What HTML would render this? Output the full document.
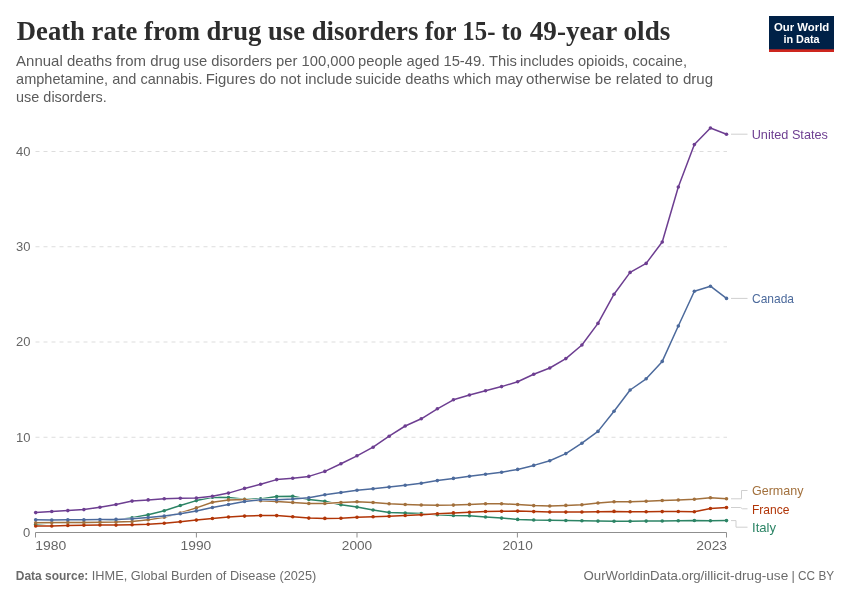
<!DOCTYPE html>
<html><head><meta charset="utf-8"><title>Death rate from drug use disorders</title>
<style>
html,body{margin:0;padding:0;background:#fff;}
body{width:850px;height:600px;overflow:hidden;font-family:"Liberation Sans",sans-serif;}
svg{will-change:transform;display:block;font-family:"Liberation Sans",sans-serif;}
.title{font-family:"Liberation Serif",serif;font-weight:bold;font-size:27px;fill:#2d2d2d;}
.sub{font-size:14.3px;fill:#5b5b5b;}
.ax{font-size:13px;fill:#666666;}
.lab{font-size:12.6px;}
.ft{font-size:12.8px;fill:#6b6b6b;}
.logo{font-weight:bold;font-size:11.6px;fill:#ffffff;}
</style></head><body>
<svg width="850" height="600" viewBox="0 0 850 600">
<rect width="850" height="600" fill="#ffffff"/>
<text x="16.80" y="40.3" class="title"  textLength="401.50" lengthAdjust="spacingAndGlyphs">Death rate from drug use disorders</text>
<text x="424.90" y="40.3" class="title"  textLength="97.40" lengthAdjust="spacingAndGlyphs">for 15- to</text>
<text x="529.80" y="40.3" class="title"  textLength="140.50" lengthAdjust="spacingAndGlyphs">49-year olds</text>
<text x="16.10" y="66" class="sub"  textLength="164.10" lengthAdjust="spacingAndGlyphs">Annual deaths from drug</text>
<text x="183.30" y="66" class="sub"  textLength="171.70" lengthAdjust="spacingAndGlyphs">use disorders per 100,000</text>
<text x="358.10" y="66" class="sub"  textLength="158.90" lengthAdjust="spacingAndGlyphs">people aged 15-49. This</text>
<text x="520.10" y="66" class="sub"  textLength="167.00" lengthAdjust="spacingAndGlyphs">includes opioids, cocaine,</text>
<text x="16.10" y="84" class="sub"  textLength="186.50" lengthAdjust="spacingAndGlyphs">amphetamine, and cannabis.</text>
<text x="205.70" y="84" class="sub"  textLength="146.50" lengthAdjust="spacingAndGlyphs">Figures do not include</text>
<text x="355.30" y="84" class="sub"  textLength="167.70" lengthAdjust="spacingAndGlyphs">suicide deaths which may</text>
<text x="526.10" y="84" class="sub"  textLength="187.00" lengthAdjust="spacingAndGlyphs">otherwise be related to drug</text>
<text x="16.10" y="102" class="sub"  textLength="90.60" lengthAdjust="spacingAndGlyphs">use disorders.</text>
<g id="logo">
<rect x="769" y="16" width="65" height="36" fill="#002147"/>
<rect x="769" y="49.3" width="65" height="2.7" fill="#ce261e"/>
<text x="801.6" y="30.7" text-anchor="middle" class="logo" textLength="55.3" lengthAdjust="spacingAndGlyphs">Our World</text>
<text x="801.5" y="42.7" text-anchor="middle" class="logo" textLength="36.2" lengthAdjust="spacingAndGlyphs">in Data</text>
</g>
<g id="grid">
<line x1="35.5" x2="727" y1="437.25" y2="437.25" stroke="#dddddd" stroke-width="1" stroke-dasharray="4,4"/>
<text x="16" y="441.55" class="ax">10</text>
<line x1="35.5" x2="727" y1="342.0" y2="342.0" stroke="#dddddd" stroke-width="1" stroke-dasharray="4,4"/>
<text x="16" y="346.3" class="ax">20</text>
<line x1="35.5" x2="727" y1="246.75" y2="246.75" stroke="#dddddd" stroke-width="1" stroke-dasharray="4,4"/>
<text x="16" y="251.05" class="ax">30</text>
<line x1="35.5" x2="727" y1="151.5" y2="151.5" stroke="#dddddd" stroke-width="1" stroke-dasharray="4,4"/>
<text x="16" y="155.8" class="ax">40</text>
<text x="22.9" y="536.8" class="ax">0</text>
</g>
<g id="xaxis" stroke="#8f8f8f" stroke-width="1" fill="none">
<path d="M35.5,537.5 V532.5 H726.5 V537.5"/>
<line x1="196.4" x2="196.4" y1="532.5" y2="537.5"/>
<line x1="357" x2="357" y1="532.5" y2="537.5"/>
<line x1="517.4" x2="517.4" y1="532.5" y2="537.5"/>
</g>
<text x="35.30" y="550.3" class="ax"  textLength="31.00" lengthAdjust="spacingAndGlyphs">1980</text>
<text x="180.60" y="550.3" class="ax"  textLength="30.70" lengthAdjust="spacingAndGlyphs">1990</text>
<text x="341.80" y="550.3" class="ax"  textLength="30.40" lengthAdjust="spacingAndGlyphs">2000</text>
<text x="502.40" y="550.3" class="ax"  textLength="30.40" lengthAdjust="spacingAndGlyphs">2010</text>
<text x="696.30" y="550.3" class="ax"  textLength="30.70" lengthAdjust="spacingAndGlyphs">2023</text>
<g id="lines">
<g fill="#ffffff"><path d="M35.70,524.30 L51.77,522.80 L67.83,522.50 L83.90,522.50 L99.96,522.30 L116.03,519.90 L132.09,517.80 L148.16,514.70 L164.22,510.70 L180.29,505.50 L196.35,500.60 L212.42,497.20 L228.48,497.50 L244.55,499.20 L260.61,498.90 L276.68,496.60 L292.74,496.20 L308.81,499.50 L324.87,501.20 L340.94,504.80 L357.00,507.10 L373.07,510.00 L389.13,512.40 L405.20,513.10 L421.26,513.60 L437.33,514.70 L453.39,515.50 L469.46,515.80 L485.52,517.00 L501.59,518.10 L517.65,519.40 L533.72,520.00 L549.78,520.20 L565.85,520.50 L581.91,520.80 L597.98,521.10 L614.04,521.30 L630.11,521.20 L646.17,521.10 L662.24,521.00 L678.30,520.80 L694.37,520.50 L710.43,520.80 L726.50,520.60" fill="none" stroke="#ffffff" stroke-width="2.5" stroke-linejoin="round"/></g><g fill="#2C8465"><path d="M35.70,524.30 L51.77,522.80 L67.83,522.50 L83.90,522.50 L99.96,522.30 L116.03,519.90 L132.09,517.80 L148.16,514.70 L164.22,510.70 L180.29,505.50 L196.35,500.60 L212.42,497.20 L228.48,497.50 L244.55,499.20 L260.61,498.90 L276.68,496.60 L292.74,496.20 L308.81,499.50 L324.87,501.20 L340.94,504.80 L357.00,507.10 L373.07,510.00 L389.13,512.40 L405.20,513.10 L421.26,513.60 L437.33,514.70 L453.39,515.50 L469.46,515.80 L485.52,517.00 L501.59,518.10 L517.65,519.40 L533.72,520.00 L549.78,520.20 L565.85,520.50 L581.91,520.80 L597.98,521.10 L614.04,521.30 L630.11,521.20 L646.17,521.10 L662.24,521.00 L678.30,520.80 L694.37,520.50 L710.43,520.80 L726.50,520.60" fill="none" stroke="#2C8465" stroke-width="1.5" stroke-linejoin="round"/><circle cx="35.70" cy="524.30" r="1.8"/><circle cx="51.77" cy="522.80" r="1.8"/><circle cx="67.83" cy="522.50" r="1.8"/><circle cx="83.90" cy="522.50" r="1.8"/><circle cx="99.96" cy="522.30" r="1.8"/><circle cx="116.03" cy="519.90" r="1.8"/><circle cx="132.09" cy="517.80" r="1.8"/><circle cx="148.16" cy="514.70" r="1.8"/><circle cx="164.22" cy="510.70" r="1.8"/><circle cx="180.29" cy="505.50" r="1.8"/><circle cx="196.35" cy="500.60" r="1.8"/><circle cx="212.42" cy="497.20" r="1.8"/><circle cx="228.48" cy="497.50" r="1.8"/><circle cx="244.55" cy="499.20" r="1.8"/><circle cx="260.61" cy="498.90" r="1.8"/><circle cx="276.68" cy="496.60" r="1.8"/><circle cx="292.74" cy="496.20" r="1.8"/><circle cx="308.81" cy="499.50" r="1.8"/><circle cx="324.87" cy="501.20" r="1.8"/><circle cx="340.94" cy="504.80" r="1.8"/><circle cx="357.00" cy="507.10" r="1.8"/><circle cx="373.07" cy="510.00" r="1.8"/><circle cx="389.13" cy="512.40" r="1.8"/><circle cx="405.20" cy="513.10" r="1.8"/><circle cx="421.26" cy="513.60" r="1.8"/><circle cx="437.33" cy="514.70" r="1.8"/><circle cx="453.39" cy="515.50" r="1.8"/><circle cx="469.46" cy="515.80" r="1.8"/><circle cx="485.52" cy="517.00" r="1.8"/><circle cx="501.59" cy="518.10" r="1.8"/><circle cx="517.65" cy="519.40" r="1.8"/><circle cx="533.72" cy="520.00" r="1.8"/><circle cx="549.78" cy="520.20" r="1.8"/><circle cx="565.85" cy="520.50" r="1.8"/><circle cx="581.91" cy="520.80" r="1.8"/><circle cx="597.98" cy="521.10" r="1.8"/><circle cx="614.04" cy="521.30" r="1.8"/><circle cx="630.11" cy="521.20" r="1.8"/><circle cx="646.17" cy="521.10" r="1.8"/><circle cx="662.24" cy="521.00" r="1.8"/><circle cx="678.30" cy="520.80" r="1.8"/><circle cx="694.37" cy="520.50" r="1.8"/><circle cx="710.43" cy="520.80" r="1.8"/><circle cx="726.50" cy="520.60" r="1.8"/></g>
<g fill="#ffffff"><path d="M35.70,526.00 L51.77,526.00 L67.83,525.50 L83.90,525.30 L99.96,525.00 L116.03,525.10 L132.09,524.80 L148.16,524.20 L164.22,523.20 L180.29,521.80 L196.35,520.10 L212.42,518.50 L228.48,517.00 L244.55,516.10 L260.61,515.60 L276.68,515.60 L292.74,516.70 L308.81,518.10 L324.87,518.40 L340.94,518.20 L357.00,517.30 L373.07,516.80 L389.13,516.30 L405.20,515.50 L421.26,514.80 L437.33,513.80 L453.39,512.90 L469.46,512.20 L485.52,511.50 L501.59,511.20 L517.65,511.10 L533.72,511.60 L549.78,512.00 L565.85,512.10 L581.91,512.00 L597.98,511.70 L614.04,511.40 L630.11,511.70 L646.17,511.80 L662.24,511.60 L678.30,511.50 L694.37,511.80 L710.43,508.50 L726.50,507.50" fill="none" stroke="#ffffff" stroke-width="2.5" stroke-linejoin="round"/></g><g fill="#B13507"><path d="M35.70,526.00 L51.77,526.00 L67.83,525.50 L83.90,525.30 L99.96,525.00 L116.03,525.10 L132.09,524.80 L148.16,524.20 L164.22,523.20 L180.29,521.80 L196.35,520.10 L212.42,518.50 L228.48,517.00 L244.55,516.10 L260.61,515.60 L276.68,515.60 L292.74,516.70 L308.81,518.10 L324.87,518.40 L340.94,518.20 L357.00,517.30 L373.07,516.80 L389.13,516.30 L405.20,515.50 L421.26,514.80 L437.33,513.80 L453.39,512.90 L469.46,512.20 L485.52,511.50 L501.59,511.20 L517.65,511.10 L533.72,511.60 L549.78,512.00 L565.85,512.10 L581.91,512.00 L597.98,511.70 L614.04,511.40 L630.11,511.70 L646.17,511.80 L662.24,511.60 L678.30,511.50 L694.37,511.80 L710.43,508.50 L726.50,507.50" fill="none" stroke="#B13507" stroke-width="1.5" stroke-linejoin="round"/><circle cx="35.70" cy="526.00" r="1.8"/><circle cx="51.77" cy="526.00" r="1.8"/><circle cx="67.83" cy="525.50" r="1.8"/><circle cx="83.90" cy="525.30" r="1.8"/><circle cx="99.96" cy="525.00" r="1.8"/><circle cx="116.03" cy="525.10" r="1.8"/><circle cx="132.09" cy="524.80" r="1.8"/><circle cx="148.16" cy="524.20" r="1.8"/><circle cx="164.22" cy="523.20" r="1.8"/><circle cx="180.29" cy="521.80" r="1.8"/><circle cx="196.35" cy="520.10" r="1.8"/><circle cx="212.42" cy="518.50" r="1.8"/><circle cx="228.48" cy="517.00" r="1.8"/><circle cx="244.55" cy="516.10" r="1.8"/><circle cx="260.61" cy="515.60" r="1.8"/><circle cx="276.68" cy="515.60" r="1.8"/><circle cx="292.74" cy="516.70" r="1.8"/><circle cx="308.81" cy="518.10" r="1.8"/><circle cx="324.87" cy="518.40" r="1.8"/><circle cx="340.94" cy="518.20" r="1.8"/><circle cx="357.00" cy="517.30" r="1.8"/><circle cx="373.07" cy="516.80" r="1.8"/><circle cx="389.13" cy="516.30" r="1.8"/><circle cx="405.20" cy="515.50" r="1.8"/><circle cx="421.26" cy="514.80" r="1.8"/><circle cx="437.33" cy="513.80" r="1.8"/><circle cx="453.39" cy="512.90" r="1.8"/><circle cx="469.46" cy="512.20" r="1.8"/><circle cx="485.52" cy="511.50" r="1.8"/><circle cx="501.59" cy="511.20" r="1.8"/><circle cx="517.65" cy="511.10" r="1.8"/><circle cx="533.72" cy="511.60" r="1.8"/><circle cx="549.78" cy="512.00" r="1.8"/><circle cx="565.85" cy="512.10" r="1.8"/><circle cx="581.91" cy="512.00" r="1.8"/><circle cx="597.98" cy="511.70" r="1.8"/><circle cx="614.04" cy="511.40" r="1.8"/><circle cx="630.11" cy="511.70" r="1.8"/><circle cx="646.17" cy="511.80" r="1.8"/><circle cx="662.24" cy="511.60" r="1.8"/><circle cx="678.30" cy="511.50" r="1.8"/><circle cx="694.37" cy="511.80" r="1.8"/><circle cx="710.43" cy="508.50" r="1.8"/><circle cx="726.50" cy="507.50" r="1.8"/></g>
<g fill="#ffffff"><path d="M35.70,522.80 L51.77,522.60 L67.83,522.50 L83.90,522.50 L99.96,522.30 L116.03,522.10 L132.09,521.50 L148.16,519.70 L164.22,517.20 L180.29,513.00 L196.35,507.90 L212.42,502.20 L228.48,499.90 L244.55,499.60 L260.61,500.80 L276.68,501.60 L292.74,502.50 L308.81,503.50 L324.87,503.50 L340.94,502.50 L357.00,501.70 L373.07,502.50 L389.13,503.80 L405.20,504.50 L421.26,505.00 L437.33,505.30 L453.39,505.10 L469.46,504.40 L485.52,503.70 L501.59,503.80 L517.65,504.50 L533.72,505.60 L549.78,506.00 L565.85,505.40 L581.91,504.70 L597.98,503.00 L614.04,501.80 L630.11,501.80 L646.17,501.20 L662.24,500.50 L678.30,500.00 L694.37,499.30 L710.43,497.70 L726.50,498.80" fill="none" stroke="#ffffff" stroke-width="2.5" stroke-linejoin="round"/></g><g fill="#A2703C"><path d="M35.70,522.80 L51.77,522.60 L67.83,522.50 L83.90,522.50 L99.96,522.30 L116.03,522.10 L132.09,521.50 L148.16,519.70 L164.22,517.20 L180.29,513.00 L196.35,507.90 L212.42,502.20 L228.48,499.90 L244.55,499.60 L260.61,500.80 L276.68,501.60 L292.74,502.50 L308.81,503.50 L324.87,503.50 L340.94,502.50 L357.00,501.70 L373.07,502.50 L389.13,503.80 L405.20,504.50 L421.26,505.00 L437.33,505.30 L453.39,505.10 L469.46,504.40 L485.52,503.70 L501.59,503.80 L517.65,504.50 L533.72,505.60 L549.78,506.00 L565.85,505.40 L581.91,504.70 L597.98,503.00 L614.04,501.80 L630.11,501.80 L646.17,501.20 L662.24,500.50 L678.30,500.00 L694.37,499.30 L710.43,497.70 L726.50,498.80" fill="none" stroke="#A2703C" stroke-width="1.5" stroke-linejoin="round"/><circle cx="35.70" cy="522.80" r="1.8"/><circle cx="51.77" cy="522.60" r="1.8"/><circle cx="67.83" cy="522.50" r="1.8"/><circle cx="83.90" cy="522.50" r="1.8"/><circle cx="99.96" cy="522.30" r="1.8"/><circle cx="116.03" cy="522.10" r="1.8"/><circle cx="132.09" cy="521.50" r="1.8"/><circle cx="148.16" cy="519.70" r="1.8"/><circle cx="164.22" cy="517.20" r="1.8"/><circle cx="180.29" cy="513.00" r="1.8"/><circle cx="196.35" cy="507.90" r="1.8"/><circle cx="212.42" cy="502.20" r="1.8"/><circle cx="228.48" cy="499.90" r="1.8"/><circle cx="244.55" cy="499.60" r="1.8"/><circle cx="260.61" cy="500.80" r="1.8"/><circle cx="276.68" cy="501.60" r="1.8"/><circle cx="292.74" cy="502.50" r="1.8"/><circle cx="308.81" cy="503.50" r="1.8"/><circle cx="324.87" cy="503.50" r="1.8"/><circle cx="340.94" cy="502.50" r="1.8"/><circle cx="357.00" cy="501.70" r="1.8"/><circle cx="373.07" cy="502.50" r="1.8"/><circle cx="389.13" cy="503.80" r="1.8"/><circle cx="405.20" cy="504.50" r="1.8"/><circle cx="421.26" cy="505.00" r="1.8"/><circle cx="437.33" cy="505.30" r="1.8"/><circle cx="453.39" cy="505.10" r="1.8"/><circle cx="469.46" cy="504.40" r="1.8"/><circle cx="485.52" cy="503.70" r="1.8"/><circle cx="501.59" cy="503.80" r="1.8"/><circle cx="517.65" cy="504.50" r="1.8"/><circle cx="533.72" cy="505.60" r="1.8"/><circle cx="549.78" cy="506.00" r="1.8"/><circle cx="565.85" cy="505.40" r="1.8"/><circle cx="581.91" cy="504.70" r="1.8"/><circle cx="597.98" cy="503.00" r="1.8"/><circle cx="614.04" cy="501.80" r="1.8"/><circle cx="630.11" cy="501.80" r="1.8"/><circle cx="646.17" cy="501.20" r="1.8"/><circle cx="662.24" cy="500.50" r="1.8"/><circle cx="678.30" cy="500.00" r="1.8"/><circle cx="694.37" cy="499.30" r="1.8"/><circle cx="710.43" cy="497.70" r="1.8"/><circle cx="726.50" cy="498.80" r="1.8"/></g>
<g fill="#ffffff"><path d="M35.70,519.80 L51.77,520.00 L67.83,519.80 L83.90,519.70 L99.96,519.50 L116.03,519.40 L132.09,518.70 L148.16,517.50 L164.22,516.00 L180.29,513.70 L196.35,510.90 L212.42,507.50 L228.48,504.50 L244.55,501.50 L260.61,499.80 L276.68,499.70 L292.74,499.00 L308.81,497.80 L324.87,494.80 L340.94,492.50 L357.00,490.20 L373.07,488.70 L389.13,487.10 L405.20,485.30 L421.26,483.30 L437.33,480.60 L453.39,478.40 L469.46,476.20 L485.52,474.20 L501.59,472.20 L517.65,469.40 L533.72,465.40 L549.78,460.80 L565.85,453.60 L581.91,443.20 L597.98,431.40 L614.04,411.20 L630.11,390.00 L646.17,378.80 L662.24,361.40 L678.30,326.00 L694.37,291.20 L710.43,286.20 L726.50,298.40" fill="none" stroke="#ffffff" stroke-width="2.5" stroke-linejoin="round"/></g><g fill="#4C6A9C"><path d="M35.70,519.80 L51.77,520.00 L67.83,519.80 L83.90,519.70 L99.96,519.50 L116.03,519.40 L132.09,518.70 L148.16,517.50 L164.22,516.00 L180.29,513.70 L196.35,510.90 L212.42,507.50 L228.48,504.50 L244.55,501.50 L260.61,499.80 L276.68,499.70 L292.74,499.00 L308.81,497.80 L324.87,494.80 L340.94,492.50 L357.00,490.20 L373.07,488.70 L389.13,487.10 L405.20,485.30 L421.26,483.30 L437.33,480.60 L453.39,478.40 L469.46,476.20 L485.52,474.20 L501.59,472.20 L517.65,469.40 L533.72,465.40 L549.78,460.80 L565.85,453.60 L581.91,443.20 L597.98,431.40 L614.04,411.20 L630.11,390.00 L646.17,378.80 L662.24,361.40 L678.30,326.00 L694.37,291.20 L710.43,286.20 L726.50,298.40" fill="none" stroke="#4C6A9C" stroke-width="1.5" stroke-linejoin="round"/><circle cx="35.70" cy="519.80" r="1.8"/><circle cx="51.77" cy="520.00" r="1.8"/><circle cx="67.83" cy="519.80" r="1.8"/><circle cx="83.90" cy="519.70" r="1.8"/><circle cx="99.96" cy="519.50" r="1.8"/><circle cx="116.03" cy="519.40" r="1.8"/><circle cx="132.09" cy="518.70" r="1.8"/><circle cx="148.16" cy="517.50" r="1.8"/><circle cx="164.22" cy="516.00" r="1.8"/><circle cx="180.29" cy="513.70" r="1.8"/><circle cx="196.35" cy="510.90" r="1.8"/><circle cx="212.42" cy="507.50" r="1.8"/><circle cx="228.48" cy="504.50" r="1.8"/><circle cx="244.55" cy="501.50" r="1.8"/><circle cx="260.61" cy="499.80" r="1.8"/><circle cx="276.68" cy="499.70" r="1.8"/><circle cx="292.74" cy="499.00" r="1.8"/><circle cx="308.81" cy="497.80" r="1.8"/><circle cx="324.87" cy="494.80" r="1.8"/><circle cx="340.94" cy="492.50" r="1.8"/><circle cx="357.00" cy="490.20" r="1.8"/><circle cx="373.07" cy="488.70" r="1.8"/><circle cx="389.13" cy="487.10" r="1.8"/><circle cx="405.20" cy="485.30" r="1.8"/><circle cx="421.26" cy="483.30" r="1.8"/><circle cx="437.33" cy="480.60" r="1.8"/><circle cx="453.39" cy="478.40" r="1.8"/><circle cx="469.46" cy="476.20" r="1.8"/><circle cx="485.52" cy="474.20" r="1.8"/><circle cx="501.59" cy="472.20" r="1.8"/><circle cx="517.65" cy="469.40" r="1.8"/><circle cx="533.72" cy="465.40" r="1.8"/><circle cx="549.78" cy="460.80" r="1.8"/><circle cx="565.85" cy="453.60" r="1.8"/><circle cx="581.91" cy="443.20" r="1.8"/><circle cx="597.98" cy="431.40" r="1.8"/><circle cx="614.04" cy="411.20" r="1.8"/><circle cx="630.11" cy="390.00" r="1.8"/><circle cx="646.17" cy="378.80" r="1.8"/><circle cx="662.24" cy="361.40" r="1.8"/><circle cx="678.30" cy="326.00" r="1.8"/><circle cx="694.37" cy="291.20" r="1.8"/><circle cx="710.43" cy="286.20" r="1.8"/><circle cx="726.50" cy="298.40" r="1.8"/></g>
<g fill="#ffffff"><path d="M35.70,512.60 L51.77,511.50 L67.83,510.60 L83.90,509.60 L99.96,507.20 L116.03,504.50 L132.09,501.10 L148.16,499.90 L164.22,498.70 L180.29,498.20 L196.35,498.10 L212.42,496.30 L228.48,493.10 L244.55,488.40 L260.61,484.30 L276.68,479.60 L292.74,478.20 L308.81,476.40 L324.87,471.40 L340.94,463.80 L357.00,455.80 L373.07,447.20 L389.13,436.20 L405.20,426.00 L421.26,418.80 L437.33,408.80 L453.39,399.80 L469.46,395.00 L485.52,390.80 L501.59,386.60 L517.65,381.80 L533.72,374.20 L549.78,368.00 L565.85,358.60 L581.91,345.00 L597.98,323.40 L614.04,294.20 L630.11,272.40 L646.17,263.40 L662.24,242.00 L678.30,187.00 L694.37,144.60 L710.43,128.00 L726.50,134.20" fill="none" stroke="#ffffff" stroke-width="2.5" stroke-linejoin="round"/></g><g fill="#6D3E91"><path d="M35.70,512.60 L51.77,511.50 L67.83,510.60 L83.90,509.60 L99.96,507.20 L116.03,504.50 L132.09,501.10 L148.16,499.90 L164.22,498.70 L180.29,498.20 L196.35,498.10 L212.42,496.30 L228.48,493.10 L244.55,488.40 L260.61,484.30 L276.68,479.60 L292.74,478.20 L308.81,476.40 L324.87,471.40 L340.94,463.80 L357.00,455.80 L373.07,447.20 L389.13,436.20 L405.20,426.00 L421.26,418.80 L437.33,408.80 L453.39,399.80 L469.46,395.00 L485.52,390.80 L501.59,386.60 L517.65,381.80 L533.72,374.20 L549.78,368.00 L565.85,358.60 L581.91,345.00 L597.98,323.40 L614.04,294.20 L630.11,272.40 L646.17,263.40 L662.24,242.00 L678.30,187.00 L694.37,144.60 L710.43,128.00 L726.50,134.20" fill="none" stroke="#6D3E91" stroke-width="1.5" stroke-linejoin="round"/><circle cx="35.70" cy="512.60" r="1.8"/><circle cx="51.77" cy="511.50" r="1.8"/><circle cx="67.83" cy="510.60" r="1.8"/><circle cx="83.90" cy="509.60" r="1.8"/><circle cx="99.96" cy="507.20" r="1.8"/><circle cx="116.03" cy="504.50" r="1.8"/><circle cx="132.09" cy="501.10" r="1.8"/><circle cx="148.16" cy="499.90" r="1.8"/><circle cx="164.22" cy="498.70" r="1.8"/><circle cx="180.29" cy="498.20" r="1.8"/><circle cx="196.35" cy="498.10" r="1.8"/><circle cx="212.42" cy="496.30" r="1.8"/><circle cx="228.48" cy="493.10" r="1.8"/><circle cx="244.55" cy="488.40" r="1.8"/><circle cx="260.61" cy="484.30" r="1.8"/><circle cx="276.68" cy="479.60" r="1.8"/><circle cx="292.74" cy="478.20" r="1.8"/><circle cx="308.81" cy="476.40" r="1.8"/><circle cx="324.87" cy="471.40" r="1.8"/><circle cx="340.94" cy="463.80" r="1.8"/><circle cx="357.00" cy="455.80" r="1.8"/><circle cx="373.07" cy="447.20" r="1.8"/><circle cx="389.13" cy="436.20" r="1.8"/><circle cx="405.20" cy="426.00" r="1.8"/><circle cx="421.26" cy="418.80" r="1.8"/><circle cx="437.33" cy="408.80" r="1.8"/><circle cx="453.39" cy="399.80" r="1.8"/><circle cx="469.46" cy="395.00" r="1.8"/><circle cx="485.52" cy="390.80" r="1.8"/><circle cx="501.59" cy="386.60" r="1.8"/><circle cx="517.65" cy="381.80" r="1.8"/><circle cx="533.72" cy="374.20" r="1.8"/><circle cx="549.78" cy="368.00" r="1.8"/><circle cx="565.85" cy="358.60" r="1.8"/><circle cx="581.91" cy="345.00" r="1.8"/><circle cx="597.98" cy="323.40" r="1.8"/><circle cx="614.04" cy="294.20" r="1.8"/><circle cx="630.11" cy="272.40" r="1.8"/><circle cx="646.17" cy="263.40" r="1.8"/><circle cx="662.24" cy="242.00" r="1.8"/><circle cx="678.30" cy="187.00" r="1.8"/><circle cx="694.37" cy="144.60" r="1.8"/><circle cx="710.43" cy="128.00" r="1.8"/><circle cx="726.50" cy="134.20" r="1.8"/></g>
</g>
<g id="connectors" stroke="#cfcfcf" stroke-width="1" fill="none">
<path d="M731,134.2 H747.5"/>
<path d="M731,298.4 H747.5"/>
<path d="M731,498.8 H741.5 V490.5 H747.5"/>
<path d="M731,507.5 H740.5 L742.5,508.8 H747.5"/>
<path d="M731,520.6 H736 V527.2 H747.5"/>
</g>
<g id="labels">
<text x="751.7" y="138.7" class="lab" fill="#6D3E91" textLength="76.2" lengthAdjust="spacingAndGlyphs">United States</text>
<text x="752" y="302.9" class="lab" fill="#4C6A9C" textLength="42" lengthAdjust="spacingAndGlyphs">Canada</text>
<text x="752" y="495.4" class="lab" fill="#A2703C" textLength="51.5" lengthAdjust="spacingAndGlyphs">Germany</text>
<text x="752" y="513.7" class="lab" fill="#B13507" textLength="37.5" lengthAdjust="spacingAndGlyphs">France</text>
<text x="752" y="531.8" class="lab" fill="#2C8465" textLength="24" lengthAdjust="spacingAndGlyphs">Italy</text>
</g>
<g id="footer">
<text x="15.80" y="580.4" class="ft" font-weight="bold" textLength="72.50" lengthAdjust="spacingAndGlyphs">Data source:</text>
<text x="91.80" y="580.4" class="ft"  textLength="224.50" lengthAdjust="spacingAndGlyphs">IHME, Global Burden of Disease (2025)</text>
<text x="583.60" y="580.4" class="ft"  textLength="117.10" lengthAdjust="spacingAndGlyphs">OurWorldinData.org</text>
<text x="700.50" y="580.4" class="ft"  textLength="87.70" lengthAdjust="spacingAndGlyphs">/illicit-drug-use</text>
<text x="793.1" y="580.4" class="ft" text-anchor="middle">|</text>
<text x="798.10" y="580.4" class="ft"  textLength="36.00" lengthAdjust="spacingAndGlyphs">CC BY</text>
</g>
</svg>
</body></html>
